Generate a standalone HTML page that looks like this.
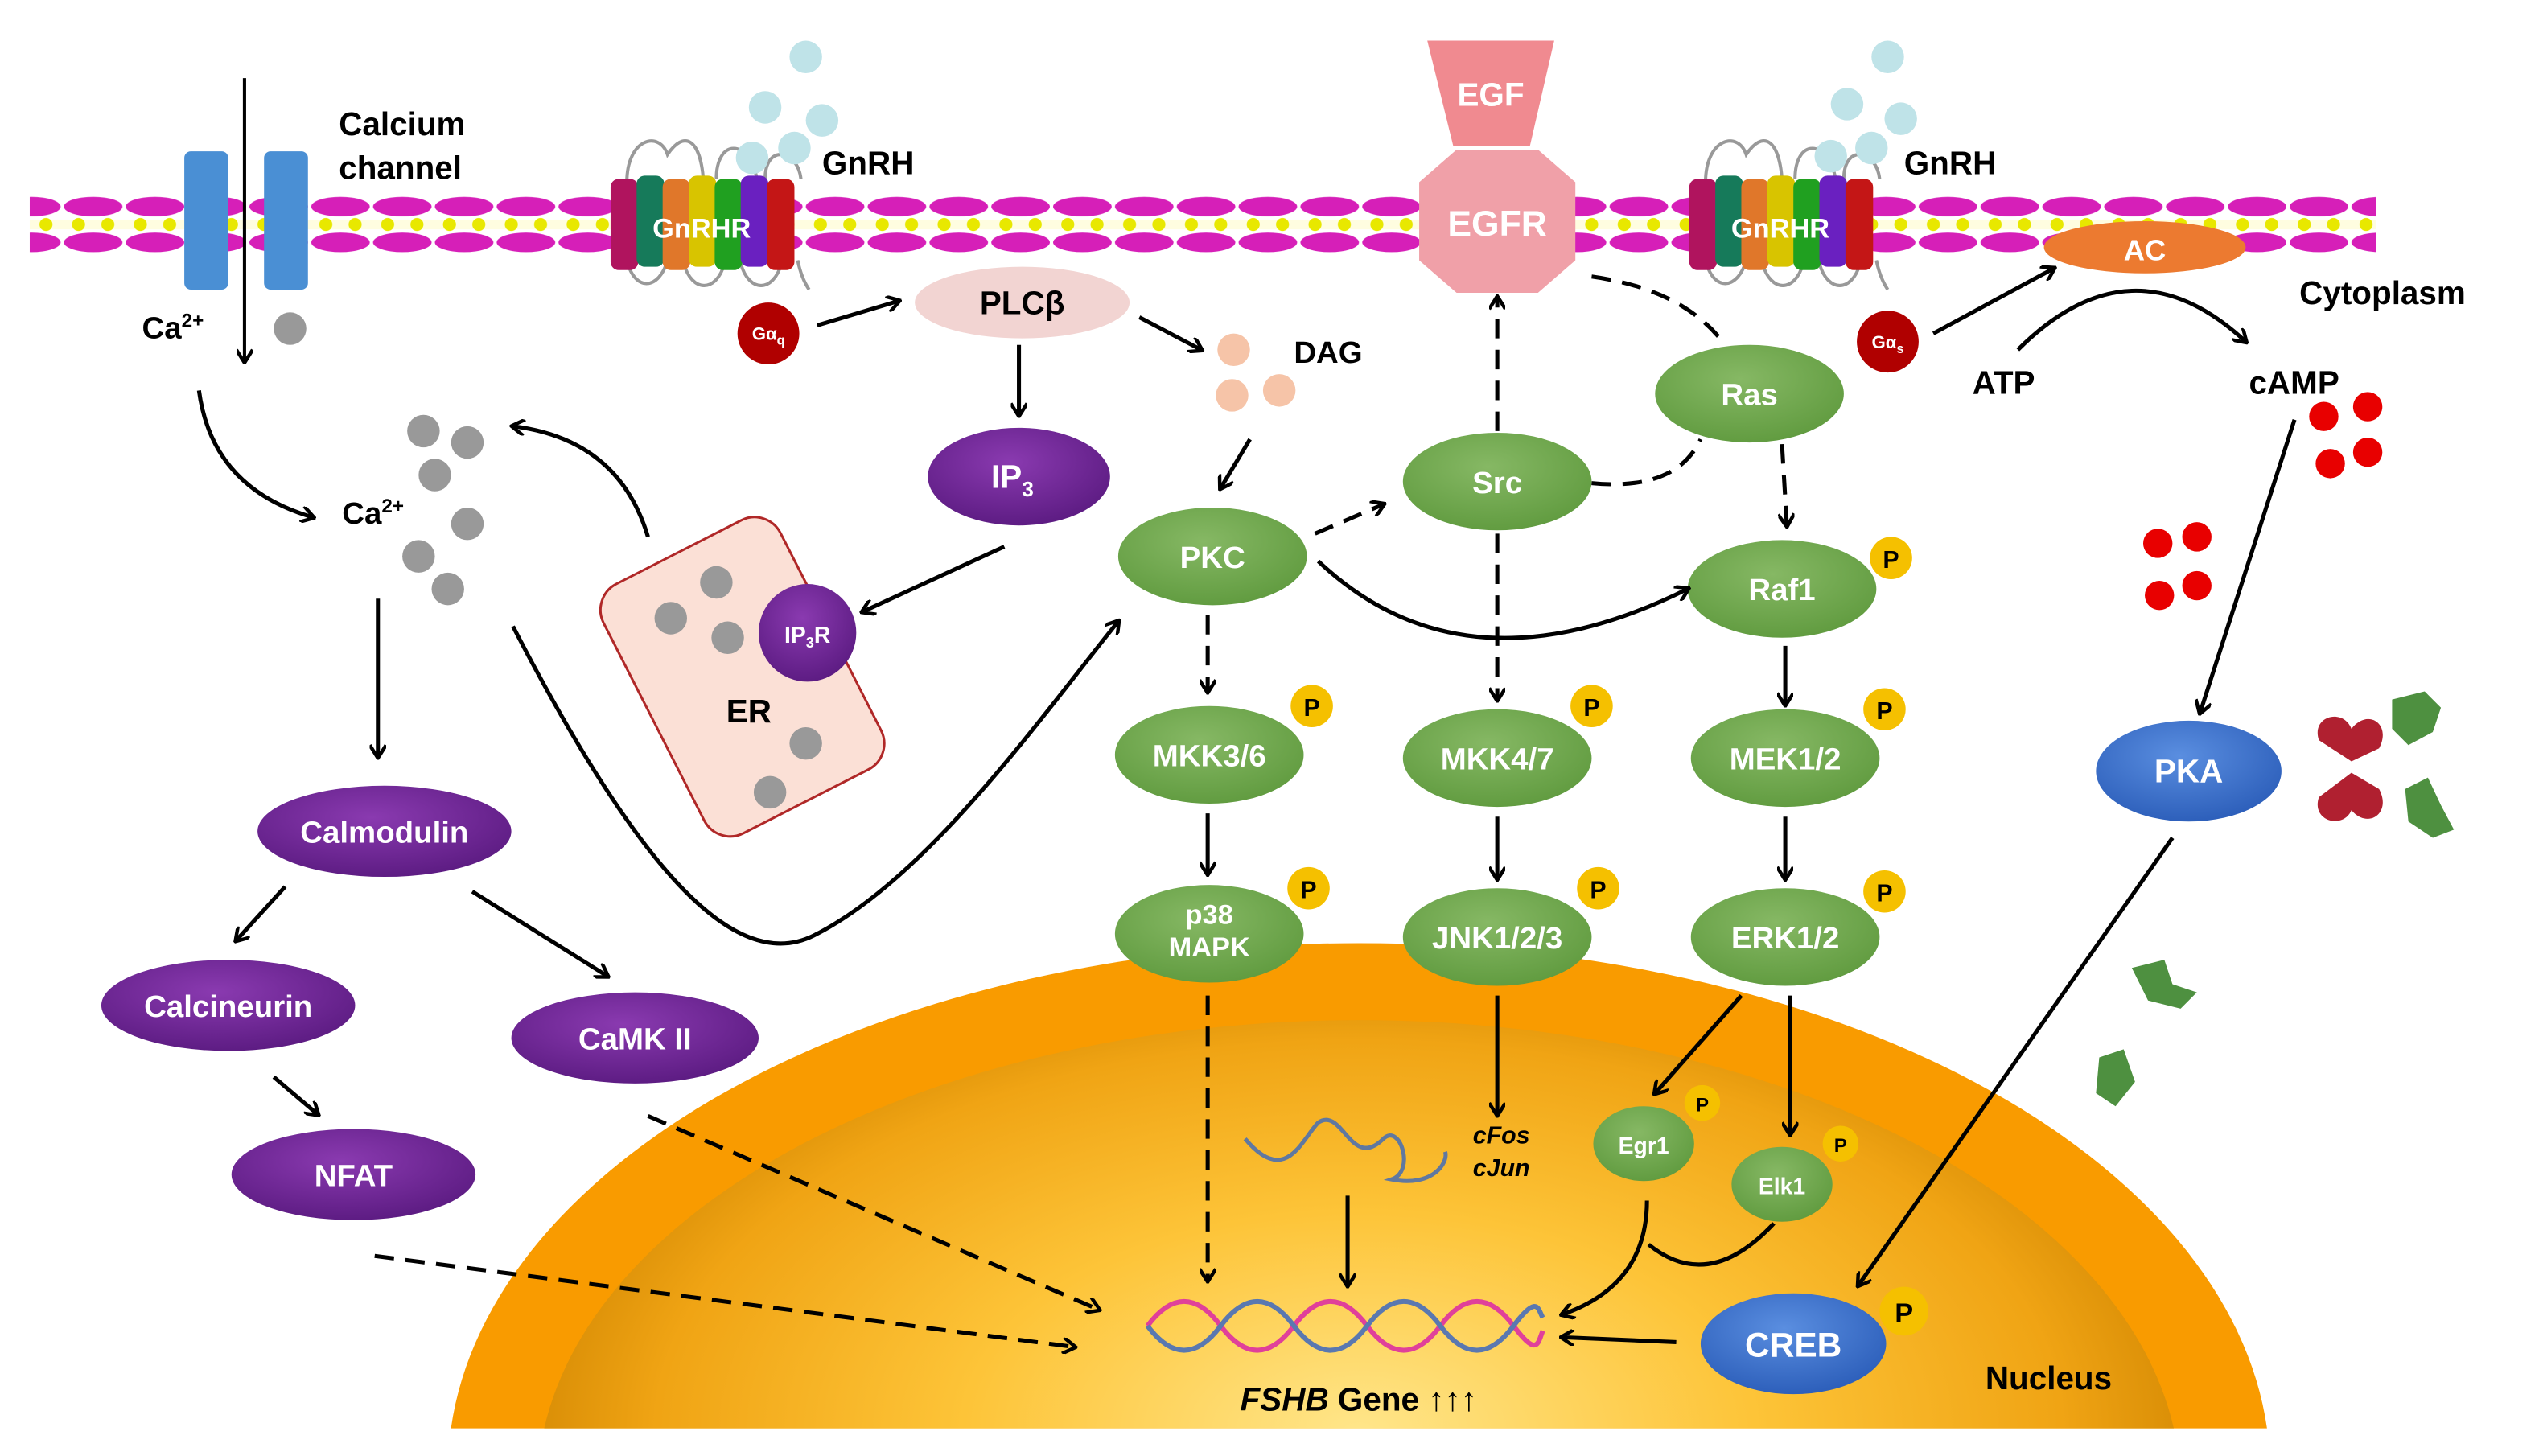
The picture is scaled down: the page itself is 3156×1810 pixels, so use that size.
<!DOCTYPE html>
<html><head><meta charset="utf-8"><style>
html,body{margin:0;padding:0;background:#fff;width:3156px;height:1810px;overflow:hidden;}
svg{display:block;}
text{font-family:"Liberation Sans",Arial,sans-serif;font-weight:bold;}
</style></head><body>
<svg width="3156" height="1810" viewBox="0 0 1560 895" xmlns="http://www.w3.org/2000/svg">
<defs>
<pattern id="mem" x="0" y="118" width="38" height="40" patternUnits="userSpaceOnUse">
<ellipse cx="19" cy="9" rx="18" ry="6" fill="#d61fb8"/>
<ellipse cx="19" cy="31" rx="18" ry="6" fill="#d61fb8"/>
<rect x="0" y="17" width="38" height="6" fill="#fffde0"/>
<ellipse cx="10" cy="20" rx="4" ry="4" fill="#e8e800"/>
<ellipse cx="28" cy="20" rx="4" ry="4" fill="#e8e800"/>
</pattern>
<radialGradient id="nuc" gradientUnits="userSpaceOnUse" cx="835" cy="880" r="300" gradientTransform="translate(835,880) scale(1.8,1) translate(-835,-880)">
<stop offset="0" stop-color="#ffe68a"/><stop offset="0.45" stop-color="#fdc438"/><stop offset="0.8" stop-color="#f0a414"/><stop offset="1" stop-color="#cf8400"/>
</radialGradient>
<radialGradient id="gr" cx="0.45" cy="0.35" r="0.7"><stop offset="0" stop-color="#86b864"/><stop offset="1" stop-color="#5f9a3e"/></radialGradient>
<radialGradient id="pu" cx="0.45" cy="0.35" r="0.7"><stop offset="0" stop-color="#8a3ab0"/><stop offset="1" stop-color="#5a1a80"/></radialGradient>
<radialGradient id="bl" cx="0.45" cy="0.35" r="0.7"><stop offset="0" stop-color="#5a8ee0"/><stop offset="1" stop-color="#2a5cb8"/></radialGradient>
<marker id="ah" markerWidth="10" markerHeight="10" refX="8" refY="5" orient="auto" markerUnits="userSpaceOnUse"><path d="M1,0 L9,5 L1,10" fill="none" stroke="#000" stroke-width="2.2"/></marker>
</defs>

<!-- nucleus -->
<path d="M276.9,878 A560,325 0 0 1 1393.1,878 Z" fill="#f99b00"/>
<path d="M334.2,878 A505,288 0 0 1 1335.8,878 Z" fill="url(#nuc)"/>

<!-- membrane -->
<rect x="18" y="118" width="1442" height="40" fill="url(#mem)"/>

<!-- calcium channel -->
<rect x="113" y="93" width="27" height="85" rx="4" fill="#4a8fd4"/>
<rect x="162" y="93" width="27" height="85" rx="4" fill="#4a8fd4"/>
<line x1="150" y1="48" x2="150" y2="222" stroke="#000" stroke-width="2" marker-end="url(#ah)"/>
<text x="208" y="83" font-size="20">Calcium</text>
<text x="208" y="110" font-size="20">channel</text>
<text x="87" y="208" font-size="19">Ca<tspan font-size="12" dy="-7">2+</tspan></text>
<circle cx="178" cy="202" r="10" fill="#999"/>

<!-- GnRHR 1 -->
<g id="gnrhr">
<path d="M385,112 C385,85 405,80 410,95 C420,80 430,85 432,110 M440,110 C440,85 460,85 465,110 M470,110 C470,88 490,92 492,110" fill="none" stroke="#999" stroke-width="2"/>
<path d="M385,160 C390,180 405,178 410,160 M420,162 C425,180 440,180 445,162 M455,162 C460,180 475,180 480,162 M490,160 C492,170 495,175 497,178" fill="none" stroke="#999" stroke-width="2"/>
<rect x="375" y="110" width="17" height="56" rx="5" fill="#b0145e"/>
<rect x="391" y="108" width="17" height="56" rx="5" fill="#167a5a"/>
<rect x="407" y="110" width="17" height="56" rx="5" fill="#e0772a"/>
<rect x="423" y="108" width="17" height="56" rx="5" fill="#d8c400"/>
<rect x="439" y="110" width="17" height="56" rx="5" fill="#20a020"/>
<rect x="455" y="108" width="17" height="56" rx="5" fill="#6a20c0"/>
<rect x="471" y="110" width="17" height="56" rx="5" fill="#c41616"/>
<text x="431" y="146" font-size="17" fill="#fff" text-anchor="middle">GnRHR</text>
</g>
<use href="#gnrhr" x="663" y="0"/>
<g fill="#bfe3e8">
<circle cx="495" cy="35" r="10"/><circle cx="470" cy="66" r="10"/><circle cx="505" cy="74" r="10"/><circle cx="488" cy="91" r="10"/><circle cx="462" cy="97" r="10"/>
<circle cx="1160" cy="35" r="10"/><circle cx="1135" cy="64" r="10"/><circle cx="1168" cy="73" r="10"/><circle cx="1150" cy="91" r="10"/><circle cx="1125" cy="96" r="10"/>
</g>
<text x="505" y="107" font-size="20">GnRH</text>
<text x="1170" y="107" font-size="20">GnRH</text>

<!-- EGF / EGFR -->
<polygon points="877,25 955,25 940,90 893,90" fill="#f08a90"/>
<text x="916" y="65" font-size="20" fill="#fff" text-anchor="middle">EGF</text>
<polygon points="895,92 945,92 968,112 968,160 945,180 895,180 872,160 872,112" fill="#f0a0a8"/>
<text x="920" y="145" font-size="22" fill="#fff" text-anchor="middle">EGFR</text>

<!-- AC -->
<ellipse cx="1318" cy="152" rx="62" ry="16" fill="#ec7a30"/>
<text x="1318" y="160" font-size="18" fill="#fff" text-anchor="middle">AC</text>
<text x="1413" y="187" font-size="20">Cytoplasm</text>
<text x="1212" y="242" font-size="20">ATP</text>
<text x="1382" y="242" font-size="20">cAMP</text>

<!-- G proteins -->
<circle cx="472" cy="205" r="19" fill="#b00000"/>
<text x="472" y="209" font-size="11" fill="#fff" text-anchor="middle">Gα<tspan font-size="8" dy="3">q</tspan></text>
<circle cx="1160" cy="210" r="19" fill="#b00000"/>
<text x="1160" y="214" font-size="11" fill="#fff" text-anchor="middle">Gα<tspan font-size="8" dy="3">s</tspan></text>

<!-- PLCb -->
<ellipse cx="628" cy="186" rx="66" ry="22" fill="#f2d4d2"/>
<text x="628" y="193" font-size="20" text-anchor="middle">PLCβ</text>
<g fill="#f6c4a8"><circle cx="758" cy="215" r="10"/><circle cx="757" cy="243" r="10"/><circle cx="786" cy="240" r="10"/></g>
<text x="795" y="223" font-size="19">DAG</text>

<!-- IP3 -->
<ellipse cx="626" cy="293" rx="56" ry="30" fill="url(#pu)"/>
<text x="622" y="300" font-size="20" fill="#fff" text-anchor="middle">IP<tspan font-size="13" dy="5">3</tspan></text>

<!-- Ca cluster -->
<g fill="#999"><circle cx="260" cy="265" r="10"/><circle cx="287" cy="272" r="10"/><circle cx="267" cy="292" r="10"/><circle cx="287" cy="322" r="10"/><circle cx="257" cy="342" r="10"/><circle cx="275" cy="362" r="10"/></g>
<text x="210" y="322" font-size="19">Ca<tspan font-size="12" dy="-7">2+</tspan></text>

<!-- ER -->
<rect x="395" y="330" width="122" height="172" rx="18" fill="#fbe0d6" stroke="#b02828" stroke-width="1.5" transform="rotate(-27 456 416)"/>
<g fill="#999"><circle cx="412" cy="380" r="10"/><circle cx="440" cy="358" r="10"/><circle cx="447" cy="392" r="10"/><circle cx="495" cy="457" r="10"/><circle cx="473" cy="487" r="10"/></g>
<circle cx="496" cy="389" r="30" fill="url(#pu)"/>
<text x="496" y="395" font-size="14" fill="#fff" text-anchor="middle">IP<tspan font-size="9" dy="3">3</tspan><tspan dy="-3">R</tspan></text>
<text x="460" y="444" font-size="20" text-anchor="middle">ER</text>

<!-- purple Ca pathway -->
<ellipse cx="236" cy="511" rx="78" ry="28" fill="url(#pu)"/><text x="236" y="518" font-size="19" fill="#fff" text-anchor="middle">Calmodulin</text>
<ellipse cx="140" cy="618" rx="78" ry="28" fill="url(#pu)"/><text x="140" y="625" font-size="19" fill="#fff" text-anchor="middle">Calcineurin</text>
<ellipse cx="390" cy="638" rx="76" ry="28" fill="url(#pu)"/><text x="390" y="645" font-size="19" fill="#fff" text-anchor="middle">CaMK II</text>
<ellipse cx="217" cy="722" rx="75" ry="28" fill="url(#pu)"/><text x="217" y="729" font-size="19" fill="#fff" text-anchor="middle">NFAT</text>

<!-- green kinases -->
<g font-size="19" fill="#fff" text-anchor="middle">
<ellipse cx="745" cy="342" rx="58" ry="30" fill="url(#gr)"/><text x="745" y="349">PKC</text>
<ellipse cx="920" cy="296" rx="58" ry="30" fill="url(#gr)"/><text x="920" y="303">Src</text>
<ellipse cx="1075" cy="242" rx="58" ry="30" fill="url(#gr)"/><text x="1075" y="249">Ras</text>
<ellipse cx="1095" cy="362" rx="58" ry="30" fill="url(#gr)"/><text x="1095" y="369">Raf1</text>
<ellipse cx="743" cy="464" rx="58" ry="30" fill="url(#gr)"/><text x="743" y="471">MKK3/6</text>
<ellipse cx="920" cy="466" rx="58" ry="30" fill="url(#gr)"/><text x="920" y="473">MKK4/7</text>
<ellipse cx="1097" cy="466" rx="58" ry="30" fill="url(#gr)"/><text x="1097" y="473">MEK1/2</text>
<ellipse cx="743" cy="574" rx="58" ry="30" fill="url(#gr)"/><text x="743" y="568" font-size="17">p38</text><text x="743" y="588" font-size="17">MAPK</text>
<ellipse cx="920" cy="576" rx="58" ry="30" fill="url(#gr)"/><text x="920" y="583">JNK1/2/3</text>
<ellipse cx="1097" cy="576" rx="58" ry="30" fill="url(#gr)"/><text x="1097" y="583">ERK1/2</text>
<ellipse cx="1010" cy="703" rx="31" ry="23" fill="url(#gr)"/><text x="1010" y="709" font-size="14">Egr1</text>
<ellipse cx="1095" cy="728" rx="31" ry="23" fill="url(#gr)"/><text x="1095" y="734" font-size="14">Elk1</text>
<ellipse cx="1345" cy="474" rx="57" ry="31" fill="url(#bl)"/><text x="1345" y="481" font-size="20">PKA</text>
<ellipse cx="1102" cy="826" rx="57" ry="31" fill="url(#bl)"/><text x="1102" y="834" font-size="21">CREB</text>
</g>

<!-- P badges -->
<g>
<g transform="translate(1162,343)"><circle r="13" fill="#f5c000"/><text y="6" font-size="15" text-anchor="middle">P</text></g>
<g transform="translate(806,434)"><circle r="13" fill="#f5c000"/><text y="6" font-size="15" text-anchor="middle">P</text></g>
<g transform="translate(978,434)"><circle r="13" fill="#f5c000"/><text y="6" font-size="15" text-anchor="middle">P</text></g>
<g transform="translate(1158,436)"><circle r="13" fill="#f5c000"/><text y="6" font-size="15" text-anchor="middle">P</text></g>
<g transform="translate(804,546)"><circle r="13" fill="#f5c000"/><text y="6" font-size="15" text-anchor="middle">P</text></g>
<g transform="translate(982,546)"><circle r="13" fill="#f5c000"/><text y="6" font-size="15" text-anchor="middle">P</text></g>
<g transform="translate(1158,548)"><circle r="13" fill="#f5c000"/><text y="6" font-size="15" text-anchor="middle">P</text></g>
<g transform="translate(1046,678)"><circle r="11" fill="#f5c000"/><text y="5" font-size="12" text-anchor="middle">P</text></g>
<g transform="translate(1131,703)"><circle r="11" fill="#f5c000"/><text y="5" font-size="12" text-anchor="middle">P</text></g>
<g transform="translate(1170,806)"><circle r="15" fill="#f5c000"/><text y="7" font-size="17" text-anchor="middle">P</text></g>
</g>

<!-- cAMP dots -->
<g fill="#e80000">
<circle cx="1428" cy="256" r="9"/><circle cx="1455" cy="250" r="9"/><circle cx="1432" cy="285" r="9"/><circle cx="1455" cy="278" r="9"/>
<circle cx="1326" cy="334" r="9"/><circle cx="1350" cy="330" r="9"/><circle cx="1327" cy="366" r="9"/><circle cx="1350" cy="360" r="9"/>
</g>
<!-- PKA subunits -->
<g fill="#b02030">
<path d="M1425,455 C1420,440 1440,435 1445,448 C1455,435 1470,445 1462,460 L1445,468 Z"/>
<path d="M1425,490 C1420,505 1440,510 1445,498 C1455,510 1470,500 1462,485 L1445,475 Z"/>
</g>
<g fill="#4e9040">
<path d="M1470,430 L1490,425 L1500,435 L1495,450 L1480,458 L1470,448 Z"/>
<path d="M1478,485 L1492,478 L1500,495 L1508,510 L1495,515 L1480,505 Z"/>
<path d="M1310,595 L1330,590 L1335,605 L1350,610 L1340,620 L1320,615 Z"/>
<path d="M1290,650 L1305,645 L1312,665 L1300,680 L1288,672 Z"/>
</g>

<!-- DNA -->
<g fill="none" stroke-width="3">
<path d="M705,815 C720,795 735,795 750,815 S780,835 795,815 S825,795 840,815 S870,835 885,815 S915,795 930,815 S945,825 948,818" stroke="#e0409a"/>
<path d="M705,815 C720,835 735,835 750,815 S780,795 795,815 S825,835 840,815 S870,795 885,815 S915,835 930,815 S945,805 948,810" stroke="#5a78b0"/>
</g>
<path d="M765,700 C790,730 800,700 810,690 C825,680 830,720 850,700 C860,690 870,720 855,725 C880,730 890,715 888,708" fill="none" stroke="#6078a0" stroke-width="2.5"/>
<text x="905" y="703" font-size="15" font-style="italic">cFos</text>
<text x="905" y="723" font-size="15" font-style="italic">cJun</text>
<text x="762" y="867" font-size="20"><tspan font-style="italic">FSHB</tspan> Gene ↑↑↑</text>
<text x="1220" y="854" font-size="20">Nucleus</text>

<!-- arrows solid -->
<g fill="none" stroke="#000" stroke-width="2.5" marker-end="url(#ah)">
<path d="M122,240 Q130,300 192,318"/>
<path d="M398,330 Q380,270 315,262"/>
<path d="M617,336 L530,376"/>
<path d="M626,212 L626,255"/>
<path d="M502,200 L552,185"/>
<path d="M700,195 L738,215"/>
<path d="M768,270 L750,300"/>
<path d="M315,385 C390,530 450,600 500,575 C570,540 640,440 687,382"/>
<path d="M810,345 Q900,430 1037,362"/>
<path d="M742,500 L742,537"/>
<path d="M920,502 L920,540"/>
<path d="M1097,397 L1097,433"/>
<path d="M1097,502 L1097,540"/>
<path d="M920,612 L920,685"/>
<path d="M828,735 L828,790"/>
<path d="M1070,612 L1017,672"/>
<path d="M1100,612 L1100,697"/>
<path d="M1012,738 Q1012,790 960,808"/>
<path d="M1030,825 L960,822"/>
<path d="M1335,515 L1142,790"/>
<path d="M1410,258 L1352,438"/>
<path d="M1188,205 L1262,165"/>
<path d="M1240,215 Q1310,145 1380,210"/>
<path d="M232,368 L232,465"/>
<path d="M175,545 L145,578"/>
<path d="M290,548 L373,600"/>
<path d="M168,662 L195,685"/>
</g>
<path d="M1090,752 Q1050,795 1013,765" fill="none" stroke="#000" stroke-width="2.5"/>
<!-- dashed -->
<g fill="none" stroke="#000" stroke-width="2.5" stroke-dasharray="12,7" marker-end="url(#ah)">
<path d="M808,328 L850,310"/>
<path d="M920,265 L920,183"/>
<path d="M920,328 L920,430"/>
<path d="M1095,273 L1098,323"/>
<path d="M742,378 L742,425"/>
<path d="M742,612 L742,787"/>
<path d="M398,686 L675,805"/>
<path d="M230,772 L660,828"/>
</g>
<g fill="none" stroke="#000" stroke-width="2.5" stroke-dasharray="12,7">
<path d="M978,297 Q1030,302 1045,270"/>
<path d="M978,170 Q1035,178 1060,212"/>
</g>
</svg>
</body></html>
